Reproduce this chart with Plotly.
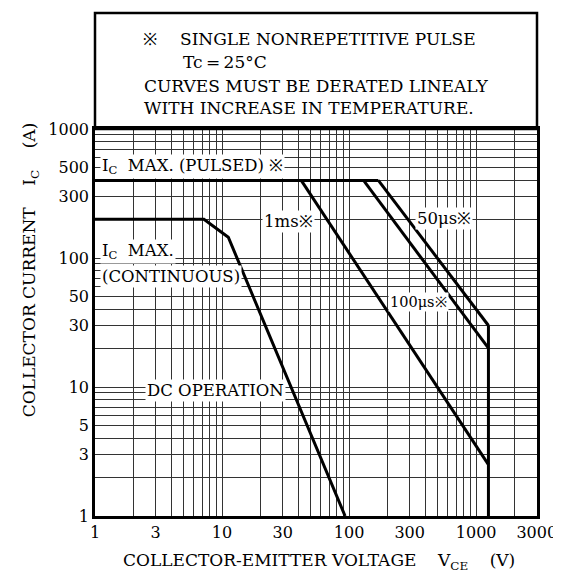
import plotly.graph_objects as go
import numpy as np

# ---- data ----
pulsed_x = [1, 170]
pulsed_y = [400, 400]
ms1_x = [42, 1250]
ms1_y = [400, 2.5]
us100_x = [130, 1250]
us100_y = [400, 20]
us50_x = [170, 1250]
us50_y = [400, 30]
vce_max_x = [1250, 1250]
vce_max_y = [30, 1]
dc_x = [1, 7.2, 11.2, 93]
dc_y = [200, 200, 145, 1]

x_grid = [m * 10 ** d for d in range(0, 3) for m in range(1, 10)] + [1000, 2000, 3000]
x_tick_vals = [1, 3, 10, 30, 100, 300, 1000, 3000]
x_tick_text = ["1", "3", "10", "30", "100", "300", "1000", "3000"]
y_grid = [m * 10 ** d for d in range(0, 3) for m in range(1, 10)] + [1000]
y_tick_vals = [1, 3, 5, 10, 30, 50, 100, 300, 500, 1000]
y_tick_text = ["1", "3", "5", "10", "30", "50", "100", "300", "500", "1000"]

FONT = "DejaVu Serif"
FS = 16.5

# plot area geometry (pixels)
L, R, T, B = 87, 538, 121, 508
W, H = 561, 575
XDEC = (R - L) / np.log10(3000)
YDEC = (B - T) / 3.0


def px(xp, yp):
    return (xp - L) / (R - L), (B - yp) / (B - T)


fig = go.Figure()
for xs, ys in [(pulsed_x, pulsed_y), (ms1_x, ms1_y), (us100_x, us100_y),
               (us50_x, us50_y), (vce_max_x, vce_max_y), (dc_x, dc_y)]:
    fig.add_trace(go.Scatter(x=xs, y=ys, mode="lines",
                             line=dict(color="black", width=3),
                             hoverinfo="skip", showlegend=False))

ann = []


def inv(xp, yp):
    return 10 ** ((xp - L) / XDEC), 10 ** ((B - yp) / YDEC)


def data_ann(text, xv, yv, xanchor="left", size=FS):
    ann.append(dict(text=text, x=np.log10(xv), y=np.log10(yv), xref="x", yref="y",
                    showarrow=False, xanchor=xanchor, yanchor="middle", align="left",
                    bgcolor="white", borderpad=1,
                    font=dict(family=FONT, size=size, color="black")))


# in-plot labels
data_ann("I<sub>C</sub>\u00a0 MAX. (PULSED) ※", *inv(92, 158))
data_ann("I<sub>C</sub>\u00a0 MAX.", *inv(92, 243))
data_ann("(CONTINUOUS)", *inv(92, 268))
data_ann("DC OPERATION", *inv(138, 382))
data_ann("1ms※", *inv(258, 213))
data_ann("50μs※", *inv(414, 210))
data_ann("100μs※", *inv(417, 294), xanchor="center", size=14.5)


def paper_ann(text, xp, yp, xanchor="left", angle=0, size=FS):
    x, y = px(xp, yp)
    ann.append(dict(text=text, x=x, y=y, xref="paper", yref="paper",
                    showarrow=False, xanchor=xanchor, yanchor="middle",
                    textangle=angle,
                    font=dict(family=FONT, size=size, color="black")))


HS = 17
paper_ann("※", 143, 31, xanchor="center", size=HS)
paper_ann("SINGLE NONREPETITIVE PULSE", 172, 31, size=HS)
paper_ann("Tc\u2009=\u200925°C", 175, 54, size=HS)
paper_ann("CURVES MUST BE DERATED LINEALY", 135, 78, size=HS)
paper_ann("WITH INCREASE IN TEMPERATURE.", 135, 100, size=HS)
paper_ann("COLLECTOR-EMITTER VOLTAGE\u00a0\u00a0\u00a0\u00a0V<sub>CE</sub>\u00a0\u00a0\u00a0\u00a0(V)",
          316, 553, xanchor="center", size=17)
paper_ann("COLLECTOR CURRENT\u00a0\u00a0\u00a0\u00a0I<sub>C</sub>\u00a0\u00a0\u00a0\u00a0(A)",
          21, 262, xanchor="center", angle=-90, size=17)

_, hy1 = px(R, 5)
shapes = [dict(type="rect", xref="paper", yref="paper", x0=0, x1=1, y0=1, y1=hy1,
               line=dict(color="black", width=2.5), fillcolor="rgba(0,0,0,0)", layer="above")]

GRID = "#333333"
axis_common = dict(type="log", showgrid=True, gridcolor=GRID, gridwidth=1,
                   showline=True, linecolor="black", linewidth=2.5, mirror=True,
                   ticks="", zeroline=False,
                   tickfont=dict(family=FONT, size=16, color="black"))

fig.update_layout(
    width=W, height=H,
    margin=dict(l=L, r=W - R, t=T, b=H - B, pad=0),
    paper_bgcolor="white", plot_bgcolor="white",
    xaxis=dict(range=[0, np.log10(3000) + 0.002], tickmode="array",
               tickvals=x_tick_vals, ticktext=x_tick_text,
               minor=dict(tickmode="array", tickvals=x_grid, showgrid=True,
                          gridcolor=GRID, gridwidth=1, ticks=""),
               **axis_common),
    yaxis=dict(range=[0, 3.0005], tickmode="array",
               tickvals=y_tick_vals, ticktext=y_tick_text,
               minor=dict(tickmode="array", tickvals=y_grid, showgrid=True,
                          gridcolor=GRID, gridwidth=1, ticks=""),
               **axis_common),
    annotations=ann, shapes=shapes,
)

fig.write_html("out.html")
